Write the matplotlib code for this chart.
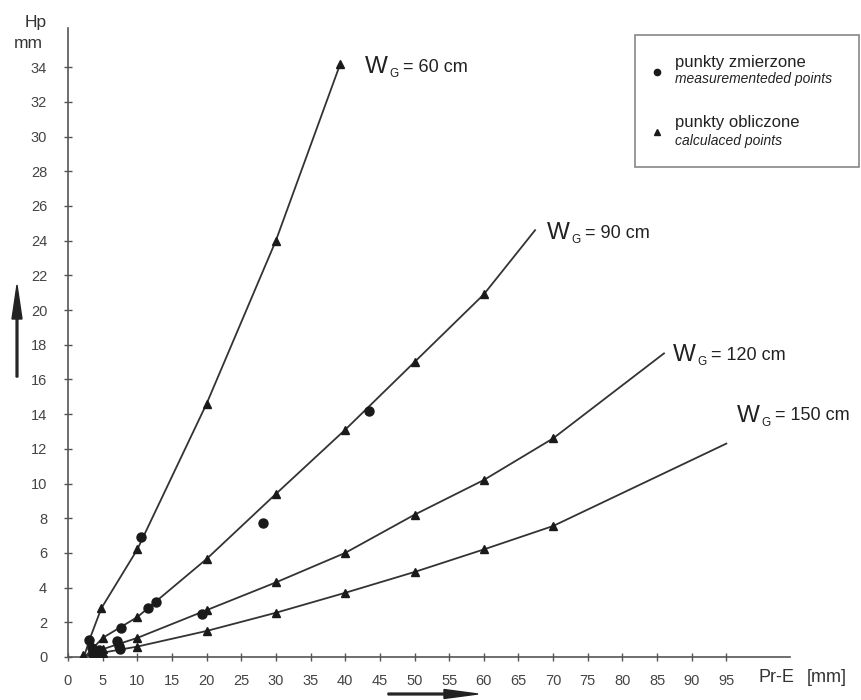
import matplotlib
matplotlib.use("Agg")
import matplotlib.pyplot as plt
from matplotlib.patches import Rectangle, FancyArrow
from matplotlib.lines import Line2D

plt.rcParams['font.family'] = ['Liberation Sans', 'DejaVu Sans']

# ---- data ----
wg60_x = [2.3, 3.1, 4.8, 10, 20, 30, 39.3]
wg60_y = [0.0, 1.0, 2.8, 6.2, 14.6, 24.0, 34.2]
wg60_calc_x = [4.8, 10, 20, 30, 39.3]
wg60_calc_y = [2.8, 6.2, 14.6, 24.0, 34.2]

wg90_x = [2.4, 5, 10, 20, 30, 40, 50, 60, 67.4]
wg90_y = [0.0, 1.1, 2.3, 5.65, 9.4, 13.1, 17.0, 20.9, 24.6]
wg90_calc_x = [5, 10, 20, 30, 40, 50, 60]
wg90_calc_y = [1.1, 2.3, 5.65, 9.4, 13.1, 17.0, 20.9]

wg120_x = [2.4, 5, 10, 20, 30, 40, 50, 60, 70, 86]
wg120_y = [0.0, 0.45, 1.1, 2.7, 4.3, 6.0, 8.2, 10.2, 12.6, 17.5]
wg120_calc_x = [5, 10, 20, 30, 40, 50, 60, 70]
wg120_calc_y = [0.45, 1.1, 2.7, 4.3, 6.0, 8.2, 10.2, 12.6]

wg150_x = [2.4, 5, 10, 20, 30, 40, 50, 60, 70, 95]
wg150_y = [0.0, 0.25, 0.6, 1.5, 2.55, 3.7, 4.9, 6.2, 7.55, 12.3]
wg150_calc_x = [5, 10, 20, 30, 40, 50, 60, 70]
wg150_calc_y = [0.25, 0.6, 1.5, 2.55, 3.7, 4.9, 6.2, 7.55]

origin_calc_x = [2.1]
origin_calc_y = [0.1]

meas_x = [3.1, 10.5, 3.4, 3.6, 4.5, 4.5, 7.0, 7.3, 7.5, 7.7, 11.5, 12.7, 19.4, 28.1, 43.5]
meas_y = [1.0, 6.9, 0.5, 0.2, 0.4, 0.2, 0.9, 0.65, 0.45, 1.7, 2.8, 3.15, 2.5, 7.7, 14.2]

x_ticks = list(range(0, 100, 5))
y_ticks = list(range(0, 36, 2))

curve_labels = ["60", "90", "120", "150"]

# ---- figure ----
W, H = 861, 700
fig = plt.figure(figsize=(W / 100, H / 100), dpi=100)
ax_left, ax_right, ax_bottom, ax_top = 68, 790, 657, 28
ax = fig.add_axes([ax_left / W, 1 - ax_bottom / H, (ax_right - ax_left) / W, (ax_bottom - ax_top) / H])
ax.set_xlim(0, (ax_right - ax_left) / 6.93)
ax.set_ylim(0, (ax_bottom - ax_top) / 17.35)

line_c = '#333333'
mark_c = '#1a1a1a'
for xs, ys in [(wg60_x, wg60_y), (wg90_x, wg90_y), (wg120_x, wg120_y), (wg150_x, wg150_y)]:
    ax.plot(xs, ys, color=line_c, lw=1.3, zorder=2)

for xs, ys in [(wg60_calc_x, wg60_calc_y), (wg90_calc_x, wg90_calc_y),
               (wg120_calc_x, wg120_calc_y), (wg150_calc_x, wg150_calc_y),
               (origin_calc_x, origin_calc_y)]:
    ax.plot(xs, ys, linestyle='none', marker='^', color=mark_c, markersize=6, zorder=3)

ax.plot(meas_x, meas_y, linestyle='none', marker='o', color=mark_c, markersize=6.5, zorder=3)

for s in ['top', 'right']:
    ax.spines[s].set_visible(False)
for s in ['left', 'bottom']:
    ax.spines[s].set_color('#555555')
    ax.spines[s].set_linewidth(1.2)

ax.set_xticks(x_ticks)
ax.set_yticks(y_ticks)
ax.set_xticklabels([str(v) for v in x_ticks])
ax.set_yticklabels([str(v) for v in y_ticks])
ax.tick_params(axis='both', direction='inout', length=6, width=1, color='#555555',
               labelcolor='#444444', labelsize=10.5)
ax.tick_params(axis='x', pad=9)
ax.tick_params(axis='y', pad=12)

# ---- curve labels: W_G = .. cm ----
label_pos = [(365, 67), (547, 233), (673, 355), (737, 416)]
for (px, py), lab in zip(label_pos, curve_labels):
    fig.text(px / W, 1 - py / H, "W", fontsize=17.5, color='#222222', ha='left', va='center')
    fig.text((px + 24) / W, 1 - (py + 7) / H, "G", fontsize=8.5, color='#222222', ha='left', va='center')
    fig.text((px + 38) / W, 1 - py / H, "= " + lab + " cm", fontsize=13, color='#222222',
             ha='left', va='center')

# ---- axis labels ----
fig.text(36 / W, 1 - 22 / H, "Hp", fontsize=12.5, color='#333333', ha='center', va='center')
fig.text(28 / W, 1 - 43 / H, "mm", fontsize=12.5, color='#333333', ha='center', va='center')
fig.text(758 / W, 1 - 677 / H, "Pr-E", fontsize=13, color='#333333', ha='left', va='center')
fig.text(807 / W, 1 - 677 / H, "[mm]", fontsize=13, color='#333333', ha='left', va='center')

# ---- direction arrows ----
tr = fig.dpi_scale_trans
fig.patches.append(FancyArrow(0.17, (H - 377) / 100, 0, 0.92, width=0.018, head_width=0.10,
                              head_length=0.34, length_includes_head=True, color='#222222',
                              transform=tr, figure=fig))
fig.patches.append(FancyArrow(3.88, (H - 694) / 100, 0.90, 0, width=0.018, head_width=0.09,
                              head_length=0.34, length_includes_head=True, color='#222222',
                              transform=tr, figure=fig))

# ---- legend box ----
fig.patches.append(Rectangle((6.35, (H - 167) / 100), 2.24, 1.32, fill=False,
                             edgecolor='#888888', lw=1.2, transform=tr, figure=fig))
fig.lines.append(Line2D([6.57], [(H - 72) / 100], marker='o', color=mark_c, markersize=4.5,
                        linestyle='none', transform=tr, figure=fig))
fig.lines.append(Line2D([6.57], [(H - 132) / 100], marker='^', color=mark_c, markersize=4.5,
                        linestyle='none', transform=tr, figure=fig))
fig.text(675 / W, 1 - 62 / H, "punkty zmierzone", fontsize=12, color='#222222', ha='left', va='center')
fig.text(675 / W, 1 - 79 / H, "measurementeded points", fontsize=10, style='italic',
         color='#222222', ha='left', va='center')
fig.text(675 / W, 1 - 123 / H, "punkty obliczone", fontsize=12, color='#222222', ha='left', va='center')
fig.text(675 / W, 1 - 141 / H, "calculaced points", fontsize=10, style='italic',
         color='#222222', ha='left', va='center')

fig.savefig("out.png", dpi=100)
